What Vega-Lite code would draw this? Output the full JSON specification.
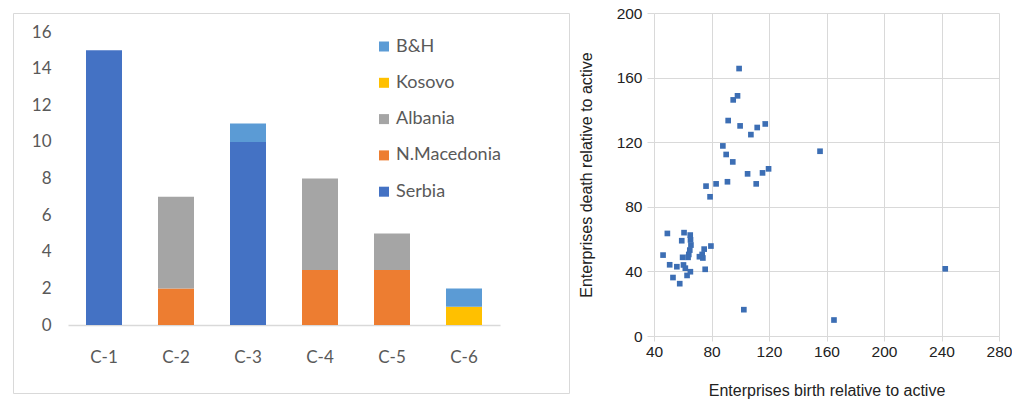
{
  "$schema": "https://vega.github.io/schema/vega-lite/v6.json",
  "padding": {"left": 12, "top": 6, "right": 0, "bottom": 0},
  "background": "white",
  "spacing": 85,
  "bounds": "flush",
  "config": {"axis": {"labelFont": "Lato", "titleFont": "Liberation Sans"}, "legend": {"labelFont": "Lato"}},
  "hconcat": [
    {
      "width": 556,
      "height": 380,
      "view": {"stroke": "#d9d9d9", "strokeWidth": 1},
      "data": {"values": [
        {"cluster": "C-1", "country": "Serbia", "count": 15},
        {"cluster": "C-2", "country": "N.Macedonia", "count": 2},
        {"cluster": "C-2", "country": "Albania", "count": 5},
        {"cluster": "C-3", "country": "Serbia", "count": 10},
        {"cluster": "C-3", "country": "B&H", "count": 1},
        {"cluster": "C-4", "country": "N.Macedonia", "count": 3},
        {"cluster": "C-4", "country": "Albania", "count": 5},
        {"cluster": "C-5", "country": "N.Macedonia", "count": 3},
        {"cluster": "C-5", "country": "Albania", "count": 2},
        {"cluster": "C-6", "country": "Kosovo", "count": 1},
        {"cluster": "C-6", "country": "B&H", "count": 1}
      ]},
      "mark": {"type": "bar"},
      "encoding": {
        "x": {"field": "cluster", "type": "nominal",
          "scale": {"range": [55, 487], "paddingInner": 0.5, "paddingOuter": 0.25},
          "axis": {"title": null, "labelAngle": 0, "ticks": false, "offset": -68, "labelPadding": 24,
            "domainColor": "#d9d9d9", "domainWidth": 1.5, "labelFontSize": 17, "labelColor": "#595959", "grid": false}},
        "y": {"field": "count", "type": "quantitative", "stack": "zero",
          "scale": {"domain": [0, 16], "range": [312, 19], "nice": false},
          "axis": {"title": null, "values": [0, 2, 4, 6, 8, 10, 12, 14, 16], "offset": -55, "domain": false, "ticks": false,
            "grid": false, "labelPadding": 17, "labelFontSize": 17, "labelColor": "#595959"}},
        "color": {"field": "country", "type": "nominal",
          "scale": {"domain": ["B&H", "Kosovo", "Albania", "N.Macedonia", "Serbia"],
            "range": ["#5B9BD5", "#FFC000", "#A5A5A5", "#ED7D31", "#4472C4"]},
          "legend": {"title": null, "orient": "none", "legendX": 362, "legendY": 24.5, "symbolType": "square",
            "symbolSize": 100, "symbolStrokeWidth": 0, "labelFontSize": 18, "labelColor": "#595959", "rowPadding": 18.3, "padding": 0, "labelOffset": 3}},
        "order": {"field": "country", "sort": "descending"}
      }
    },
    {
      "width": 345,
      "height": 323,
      "view": {"stroke": null},
      "data": {"values": [
        {"birth": 99.2, "death": 165.6},
        {"birth": 98.1, "death": 148.7},
        {"birth": 95.1, "death": 146.2},
        {"birth": 91.6, "death": 133.4},
        {"birth": 99.9, "death": 130.1},
        {"birth": 111.8, "death": 129.1},
        {"birth": 117.4, "death": 131.3},
        {"birth": 107.4, "death": 124.7},
        {"birth": 87.9, "death": 117.7},
        {"birth": 90.2, "death": 112.4},
        {"birth": 94.8, "death": 107.8},
        {"birth": 155.5, "death": 114.4},
        {"birth": 105.1, "death": 100.4},
        {"birth": 115.5, "death": 101.0},
        {"birth": 119.7, "death": 103.5},
        {"birth": 111.1, "death": 94.2},
        {"birth": 91.1, "death": 95.5},
        {"birth": 83.2, "death": 94.2},
        {"birth": 76.2, "death": 92.8},
        {"birth": 79.0, "death": 86.2},
        {"birth": 102.5, "death": 16.3},
        {"birth": 165.2, "death": 9.9},
        {"birth": 242.6, "death": 41.6},
        {"birth": 46.3, "death": 50.1},
        {"birth": 49.3, "death": 63.5},
        {"birth": 50.9, "death": 44.1},
        {"birth": 53.2, "death": 36.2},
        {"birth": 55.9, "death": 42.9},
        {"birth": 57.9, "death": 32.4},
        {"birth": 59.3, "death": 59.0},
        {"birth": 60.9, "death": 64.0},
        {"birth": 65.2, "death": 62.5},
        {"birth": 65.4, "death": 59.5},
        {"birth": 65.7, "death": 56.3},
        {"birth": 64.9, "death": 53.2},
        {"birth": 64.2, "death": 50.5},
        {"birth": 59.9, "death": 48.7},
        {"birth": 63.7, "death": 48.7},
        {"birth": 60.5, "death": 44.0},
        {"birth": 61.8, "death": 42.0},
        {"birth": 63.0, "death": 37.5},
        {"birth": 65.3, "death": 39.8},
        {"birth": 71.6, "death": 49.1},
        {"birth": 73.5, "death": 50.5},
        {"birth": 74.0, "death": 48.3},
        {"birth": 74.9, "death": 53.8},
        {"birth": 75.6, "death": 41.3},
        {"birth": 79.6, "death": 55.7}
      ]},
      "mark": {"type": "square", "size": 32, "opacity": 1, "color": "#3C6EB4"},
      "encoding": {
        "x": {"field": "birth", "type": "quantitative",
          "scale": {"domain": [40, 280], "nice": false, "zero": false},
          "axis": {"title": "Enterprises birth relative to active", "values": [40, 80, 120, 160, 200, 240, 280],
            "domain": false, "gridColor": "#d9d9d9", "tickColor": "#d9d9d9", "tickSize": 5, "labelFlush": false,
            "labelFont": "Liberation Sans", "labelFontSize": 15.5, "labelColor": "#222222", "labelPadding": 3,
            "titleFontSize": 16, "titleFontWeight": "normal", "titleColor": "#222222", "titlePadding": 23}},
        "y": {"field": "death", "type": "quantitative",
          "scale": {"domain": [0, 200], "nice": false},
          "axis": {"title": "Enterprises death relative to active", "values": [0, 40, 80, 120, 160, 200],
            "domain": false, "gridColor": "#d9d9d9", "tickColor": "#d9d9d9", "tickSize": 7,
            "labelFont": "Liberation Sans", "labelFontSize": 15.5, "labelColor": "#222222", "labelPadding": 5,
            "titleFontSize": 16, "titleFontWeight": "normal", "titleColor": "#222222", "titlePadding": 22}}
      }
    }
  ]
}
